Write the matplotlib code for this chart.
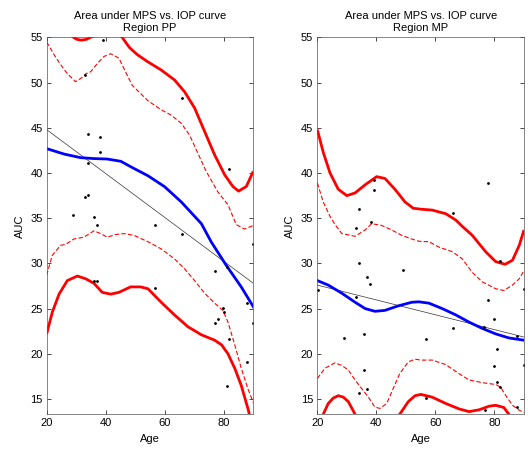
import matplotlib
matplotlib.use('Agg')
import matplotlib.pyplot as plt

plt.rcParams['font.family'] = 'Liberation Sans'
plt.rcParams['font.size'] = 8

# ---- Region PP (left panel) ----
pp_age = [39.2, 33, 34, 38, 38, 34, 34, 33, 29, 36, 37, 56.8, 65.9, 81.8,
          65.9, 90, 77, 81.1, 36, 37, 56.8, 79.8, 80, 87.9, 78, 77, 90,
          81.9, 87.8, 81]
pp_auc = [54.7, 50.8, 44.3, 44.0, 42.3, 41.1, 37.6, 37.3, 35.4, 35.1, 34.2,
          34.2, 48.3, 40.5, 33.2, 32.2, 29.2, 29.6, 28.0, 28.0, 27.3, 25.1,
          24.6, 25.6, 23.8, 23.4, 23.4, 21.6, 19.1, 16.4]

pp_fit_x = [20, 25.9, 31.5, 36.0, 40.5, 45.1, 49.6, 54.3, 59.9, 65.6, 69.0,
            72.4, 75.7, 80.8, 85.9, 90]
pp_fit_y = [42.7, 42.1, 41.7, 41.6, 41.55, 41.3, 40.5, 39.7, 38.5, 36.8, 35.6,
            34.4, 32.4, 29.8, 27.4, 25.2]

pp_lin_x = [20, 90]
pp_lin_y = [44.8, 27.8]

pp_up_x = [20, 24, 27, 28.7, 30.2, 31.7, 33.5, 35.4, 38, 41, 44, 45.6, 48,
           50.7, 54.3, 58.8, 63.3, 66.7, 70.1, 73.5, 76.9, 80.3, 83.1, 85.0,
           87.6, 90]
pp_up_y = [62, 58.5, 56, 55.1, 54.8, 54.7, 54.8, 55.1, 55.8, 56.2, 55.6, 55.0,
           53.9, 53.1, 52.3, 51.4, 50.3, 49.0, 47.2, 44.6, 42.0, 39.8, 38.5,
           38.0, 38.5, 40.2]

pp_upd_x = [20, 22.5, 24.7, 27.0, 29.8, 32.1, 33.3, 34.9, 37.1, 39.4, 41.7,
            44.5, 46.7, 49.0, 51.8, 54.3, 58.8, 62.2, 65.6, 68.4, 71.2, 74.0,
            78.0, 81.4, 84.2, 87.0, 90]
pp_upd_y = [54.5, 53.1, 52.0, 51.0, 50.1, 50.6, 51.0, 51.2, 52.1, 52.9, 53.2,
            52.7, 51.2, 49.7, 48.8, 48.0, 47.0, 46.4, 45.5, 44.2, 42.2, 40.2,
            37.9, 36.5, 34.3, 33.8, 34.2]

pp_lod_x = [20, 21.9, 24.7, 26.4, 29.2, 32.6, 36.0, 38.3, 40.5, 43.4, 46.2,
            49.6, 54.3, 58.8, 63.3, 66.7, 70.1, 73.5, 76.9, 79.7, 81.4, 83.7,
            85.9, 88.2, 90]
pp_lod_y = [28.7, 30.9, 32.0, 32.1, 32.7, 32.9, 33.6, 33.3, 32.9, 33.2, 33.3,
            33.1, 32.4, 31.6, 30.5, 29.4, 28.1, 26.7, 25.6, 24.8, 23.5, 21.0,
            18.4, 16.1, 14.6]

pp_lo_x = [20, 21.9, 24.2, 27.0, 30.4, 33.2, 36.0, 38.8, 41.7, 44.5, 48.4,
           51.8, 54.3, 58.8, 63.3, 67.8, 72.4, 76.9, 79.2, 81.4, 83.7, 85.9,
           88.2, 90]
pp_lo_y = [22.2, 24.6, 26.6, 28.1, 28.6, 28.3, 27.8, 26.8, 26.6, 26.8, 27.4,
           27.4, 27.2, 25.7, 24.3, 23.0, 22.1, 21.5, 21.0, 20.0, 18.4, 16.5,
           13.9, 11.5]

# ---- Region MP (right panel) ----
mp_age = [39.1, 39.1, 77.9, 34, 65.9, 38.1, 33, 81.9, 34, 48.9, 36.9, 37.9,
          90, 20.1, 33.1, 77.9, 79.8, 76.5, 66, 87.7, 28.9, 35.9, 56.9, 80.9,
          79.8, 90, 35.9, 80.8, 81.9, 36.9, 34, 56.9, 76.8, 87.7]
mp_auc = [39.2, 38.1, 38.9, 36.0, 35.6, 34.6, 33.9, 30.3, 30.0, 29.3, 28.5,
          27.7, 27.2, 27.1, 26.3, 25.9, 23.9, 23.0, 22.9, 22.0, 21.8, 22.2,
          21.6, 20.5, 18.7, 18.8, 18.2, 16.9, 16.3, 16.1, 15.7, 15.1, 13.8, 14.1]

mp_fit_x = [20, 23.7, 28.3, 32.8, 36.2, 39.5, 42.9, 47.4, 52.0, 54.4, 57.8,
            62.3, 66.9, 71.4, 75.9, 80.4, 84.9, 90]
mp_fit_y = [28.1, 27.6, 26.7, 25.7, 25.0, 24.7, 24.8, 25.3, 25.7, 25.75, 25.6,
            25.0, 24.3, 23.5, 22.8, 22.2, 21.75, 21.5]

mp_lin_x = [20, 90]
mp_lin_y = [27.6, 21.85]

mp_up_x = [20, 22.0, 24.3, 27.1, 30.0, 32.8, 36.2, 40.1, 42.9, 46.3, 49.7,
           52.5, 55.1, 58.9, 63.5, 66.9, 69.1, 72.5, 77.0, 80.4, 83.6, 86.1,
           88.4, 90]
mp_up_y = [44.8, 42.3, 40.0, 38.2, 37.5, 37.8, 38.7, 39.6, 39.4, 38.2, 36.8,
           36.1, 36.0, 35.9, 35.5, 34.8, 34.1, 33.1, 31.3, 30.2, 29.9, 30.35,
           32.0, 33.7]

mp_upd_x = [20, 22.0, 24.3, 26.0, 28.3, 32.8, 36.2, 38.4, 41.8, 45.2, 48.6,
            52.0, 54.4, 57.8, 61.2, 65.7, 69.1, 72.5, 75.9, 80.4, 83.2, 86.1,
            88.4, 90]
mp_upd_y = [38.9, 36.8, 35.2, 34.3, 33.3, 33.0, 33.7, 34.4, 34.2, 33.7, 33.1,
            32.7, 32.45, 32.4, 31.8, 31.3, 30.5, 29.0, 27.95, 27.2, 27.0, 27.6,
            28.3, 29.2]

mp_lod_x = [20, 22.6, 26.0, 28.3, 30.5, 32.8, 35.0, 37.3, 39.5, 41.2, 43.5,
            45.7, 47.9, 50.8, 53.1, 55.1, 58.9, 63.5, 68.0, 71.4, 75.9, 80.4,
            82.1, 83.8, 86.1, 88.4, 90]
mp_lod_y = [17.26, 18.4, 19.0, 18.7, 18.2, 17.1, 16.15, 15.2, 14.1, 13.95,
            14.5, 16.15, 17.8, 19.1, 19.4, 19.3, 19.3, 18.8, 17.8, 17.1, 16.8,
            16.6, 16.3, 15.4, 14.3, 13.75, 13.5]

mp_lo_x = [20, 22.0, 23.7, 25.4, 27.1, 28.8, 30.5, 32.8, 36, 40, 44, 47.9,
           50.8, 53.1, 55.1, 58.9, 63.5, 68.0, 71.4, 74.8, 78.2, 80.4, 83.2,
           84.9, 88, 90]
mp_lo_y = [12.0, 13.3, 14.5, 15.1, 15.36, 15.2, 14.7, 13.3, 11.5, 10.5, 11.5,
           13.3, 14.7, 15.36, 15.5, 15.2, 14.5, 13.9, 13.6, 13.8, 14.2, 14.3,
           14.05, 13.3, 11.5, 10.5]

panels = [
    ('Region PP', pp_age, pp_auc, pp_fit_x, pp_fit_y, pp_lin_x, pp_lin_y,
     pp_up_x, pp_up_y, pp_upd_x, pp_upd_y, pp_lod_x, pp_lod_y, pp_lo_x, pp_lo_y),
    ('Region MP', mp_age, mp_auc, mp_fit_x, mp_fit_y, mp_lin_x, mp_lin_y,
     mp_up_x, mp_up_y, mp_upd_x, mp_upd_y, mp_lod_x, mp_lod_y, mp_lo_x, mp_lo_y),
]

fig = plt.figure(figsize=(5.28, 4.5), dpi=100)
lefts = [0.0884, 0.601]

for left, p in zip(lefts, panels):
    (region, age, auc, fx, fy, lx, ly, ux, uy, udx, udy, ldx, ldy, lox, loy) = p
    ax = fig.add_axes([left, 0.0793, 0.3914, 0.8374])
    for xs, ys in [(ux, uy), (lox, loy)]:
        ax.plot(xs, ys, color='red', lw=2.0, solid_joinstyle='round',
                solid_capstyle='butt')
    for xs, ys in [(udx, udy), (ldx, ldy)]:
        ax.plot(xs, ys, color='red', lw=0.8, dashes=(4, 2),
                dash_joinstyle='round')
    ax.plot(lx, ly, color='#333333', lw=0.5)
    ax.plot(fx, fy, color='blue', lw=2.0, solid_joinstyle='round')
    ax.plot(age, auc, 'k.', ms=2.0)
    ax.set_xlim(20, 90)
    ax.set_ylim(13.3, 55)
    ax.set_xticks([20, 40, 60, 80])
    ax.set_yticks([15, 20, 25, 30, 35, 40, 45, 50, 55])
    ax.tick_params(direction='in', top=True, right=True, length=3, width=0.5,
                   labelsize=8, pad=3)
    for s in ax.spines.values():
        s.set_linewidth(0.5)
        s.set_color('#555555')
    ax.set_xlabel('Age', fontsize=8)
    ax.set_ylabel('AUC', fontsize=8)
    ax.set_title('Area under MPS vs. IOP curve\n' + region, fontsize=8, pad=5)

fig.savefig('out.png', dpi=100)
